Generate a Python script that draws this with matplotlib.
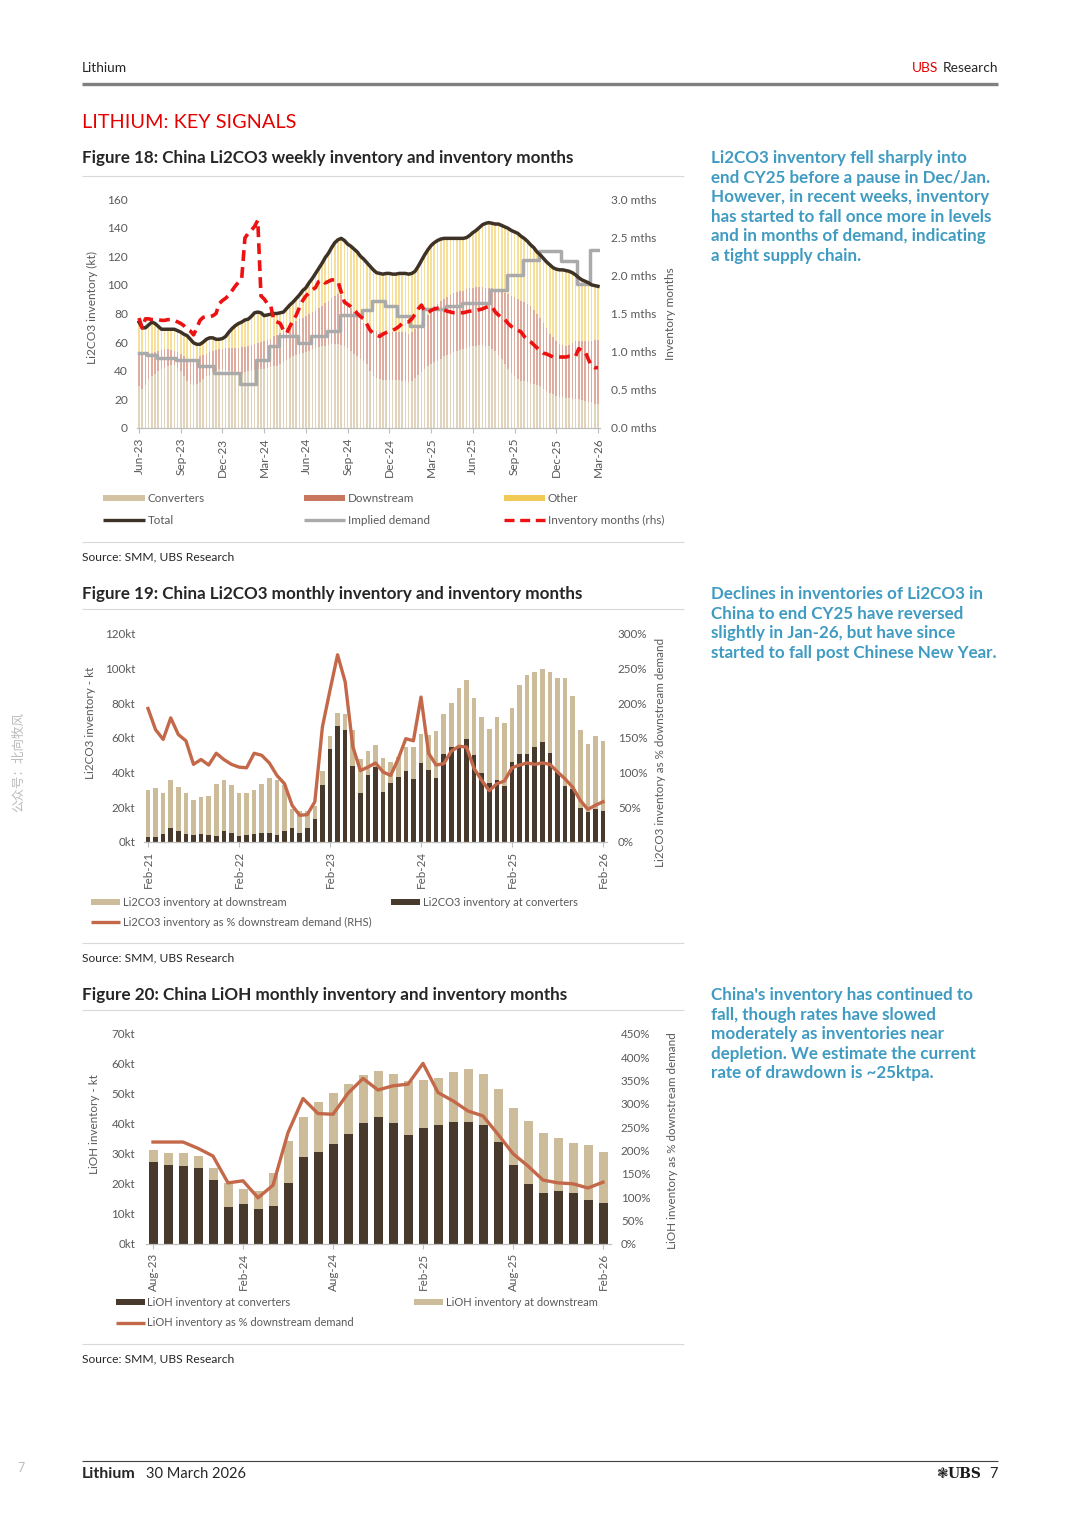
import matplotlib
matplotlib.use('Agg')
import matplotlib.pyplot as plt
import numpy as np
from matplotlib.patches import Rectangle

W, H = 1080, 1528
plt.rcParams['font.family'] = ['Lato', 'DejaVu Sans']

# ---------------- Figure 18 data (weekly, Jun-23 .. Mar-26) ----------------
f18_ticklabels = ['Jun-23', 'Sep-23', 'Dec-23', 'Mar-24', 'Jun-24', 'Sep-24',
                  'Dec-24', 'Mar-25', 'Jun-25', 'Sep-25', 'Dec-25', 'Mar-26']
converters = [29, 27, 30, 34, 36, 38, 40, 41, 42, 43,
              44, 44, 42, 40, 36, 33, 31, 30, 31, 32,
              34, 36, 37, 39, 40, 41, 41, 40.5, 40, 39,
              38, 37.5, 38, 39, 39.5, 40, 40.5, 41, 41.5, 41.5,
              42, 42.5, 43, 43, 44.5, 46, 47.5, 49, 50, 51,
              51.5, 52.5, 53, 54, 55, 56, 56.5, 57, 57.5, 58,
              58.5, 58.5, 58.5, 58, 57, 56, 54, 52, 50, 48,
              46.5, 45, 40, 36, 35, 34, 33.5, 33.5, 33.5, 33.5,
              33.5, 33.5, 33, 32.5, 32, 33, 35, 37, 39, 41,
              43, 44.5, 46, 47, 48.5, 50, 51, 52, 53, 54,
              54.5, 55, 56, 56.5, 57, 57.5, 58, 58, 57.5, 57,
              55.5, 54, 51, 48, 44.5, 41, 38.5, 36, 34.5, 33,
              32.5, 32, 31.5, 30.5, 30, 29, 27.5, 26, 24.5, 23.5,
              22.5, 21.5, 21.5, 21, 21, 20.5, 20.5, 20, 19.5, 19,
              18.5, 18, 17, 16.5]
downstream = [22, 24, 21.5, 18, 16.5, 15, 14, 13.5, 13, 12,
              10.5, 10, 11, 11.5, 14, 15.5, 17, 17.5, 17.5, 18,
              17, 16, 16, 15, 14.5, 14, 14.5, 15.5, 16, 17,
              18, 18.5, 18.5, 17.5, 17.5, 18, 18.5, 18.5, 18.5, 19.5,
              19.5, 20, 21, 22, 22, 22, 22.5, 22.5, 23, 24,
              24.5, 24.5, 25.5, 25.5, 26, 26, 27, 28, 29.5, 31,
              32.5, 34, 35, 35, 32.5, 30, 29.5, 29, 28.5, 28,
              27, 26, 29.5, 32, 32.5, 33, 33.5, 33.5, 33.5, 33.5,
              33.5, 33.5, 34, 34.5, 34, 34, 34, 34.5, 35, 35.5,
              36, 37.5, 39, 39.5, 40, 40, 40.5, 41, 41, 41,
              41, 41, 41, 41, 41, 41, 40.5, 40.5, 40.5, 41,
              42, 42.5, 45, 47, 49.5, 52.5, 54, 55.5, 55.5, 56,
              55.5, 54.5, 53.5, 52, 50, 48, 46, 44, 41.5, 40,
              38.5, 37.5, 36.5, 36, 37, 39, 40, 41, 41.5, 42,
              42.5, 43, 44.5, 45]
other = [23, 19, 18.5, 20, 21.5, 20, 17, 14.5, 14, 14,
         14.5, 15, 15, 15.5, 15.5, 16, 14, 12, 10, 8.5,
         9, 10, 10, 9, 7.5, 7, 7, 8, 11, 13.5,
         15.5, 17, 17.5, 19, 19, 20, 21.5, 21.5, 20.5, 17.5,
         17.5, 17, 16, 15, 14, 13, 13.5, 14.5, 15, 15.5,
         17, 19, 19.5, 22, 23.5, 26, 28, 30, 32, 33,
         35, 37, 38, 39.5, 41.5, 42.5, 43.5, 44, 44.5, 44,
         44.5, 44.5, 43.5, 42.5, 41, 41, 40.5, 41, 41, 40.5,
         40.5, 41, 41, 41, 41.5, 41, 40.5, 41.5, 43, 44.5,
         45.5, 45.5, 44.5, 44.5, 43.5, 42.5, 41, 39.5, 38.5, 37.5,
         37, 36.5, 36, 37, 38.5, 39.5, 41.5, 43.5, 45, 45.5,
         45.5, 46, 46.5, 46.5, 46.5, 46, 45.5, 45.5, 46, 45,
         44.5, 44, 43, 43.5, 43, 44, 45, 46, 48, 48.5,
         50, 51.5, 52.5, 53, 51.5, 49, 46.5, 44, 42.5, 41.5,
         40.5, 39, 38, 37.5]
implied_demand = [52.5, 52.5, 52.5, 51, 51, 51, 49, 49, 49, 49,
                  49, 49, 47.5, 47.5, 47.5, 47.5, 47.5, 47.5, 47.5, 43.5,
                  43.5, 43.5, 43.5, 43.5, 38.5, 38.5, 38.5, 38.5, 38.5, 38.5,
                  38.5, 38.5, 30.5, 30.5, 30.5, 30.5, 30.5, 47.5, 47.5, 47.5,
                  47.5, 57, 57, 57, 64, 64, 64, 64, 64, 64,
                  59.5, 59.5, 59.5, 59.5, 64, 64, 64, 64, 64, 67.5,
                  67.5, 67.5, 67.5, 79, 79, 79, 79, 79, 79, 79,
                  82.5, 82.5, 82.5, 89, 89, 89, 89, 85, 85, 85,
                  85, 78, 78, 78, 78, 71, 71, 71, 71, 83,
                  83, 83, 83, 83, 83, 83, 85.5, 85.5, 85.5, 85.5,
                  85.5, 87, 87, 87, 87, 87, 87, 87, 87, 87,
                  96.5, 96.5, 96.5, 96.5, 96.5, 107, 107, 107, 107, 107,
                  117.5, 117.5, 117.5, 117.5, 117.5, 123.5, 123.5, 123.5, 123.5, 123.5,
                  123.5, 123.5, 117, 117, 117, 117, 117, 100.5, 100.5, 100.5,
                  100.5, 124.5, 124.5, 124.5]
inventory_months = [1.44, 1.31, 1.43, 1.43, 1.42, 1.42, 1.42, 1.41, 1.41, 1.42,
                    1.42, 1.41, 1.39, 1.37, 1.34, 1.30, 1.27, 1.22, 1.31, 1.41,
                    1.45, 1.46, 1.46, 1.47, 1.50, 1.63, 1.67, 1.70, 1.74, 1.80,
                    1.86, 1.91, 1.96, 2.49, 2.55, 2.59, 2.64, 2.72, 1.73, 1.69,
                    1.63, 1.61, 1.41, 1.39, 1.37, 1.28, 1.24, 1.33, 1.41, 1.48,
                    1.58, 1.67, 1.73, 1.77, 1.81, 1.84, 1.92, 1.94, 1.90, 1.92,
                    1.94, 1.94, 1.92, 1.78, 1.65, 1.62, 1.59, 1.55, 1.50, 1.46,
                    1.43, 1.36, 1.28, 1.24, 1.22, 1.20, 1.23, 1.25, 1.27, 1.28,
                    1.30, 1.33, 1.37, 1.39, 1.39, 1.43, 1.49, 1.56, 1.61, 1.53,
                    1.51, 1.54, 1.56, 1.57, 1.57, 1.55, 1.53, 1.52, 1.51, 1.51,
                    1.51, 1.51, 1.52, 1.53, 1.53, 1.54, 1.55, 1.56, 1.58, 1.59,
                    1.59, 1.52, 1.48, 1.44, 1.42, 1.37, 1.33, 1.31, 1.28, 1.26,
                    1.20, 1.16, 1.13, 1.09, 1.05, 1.01, 0.98, 0.97, 0.95, 0.93,
                    0.93, 0.93, 0.93, 0.93, 0.94, 0.94, 0.94, 1.04, 1.01, 1.00,
                    0.90, 0.81, 0.79, 0.79]

# ---------------- Figure 19 data (monthly, Feb-21 .. Feb-26) ----------------
f19_ticklabels = ['Feb-21', 'Feb-22', 'Feb-23', 'Feb-24', 'Feb-25', 'Feb-26']
li2co3_converters = [2.9, 3.0, 4.4, 8.1, 6.4, 4.6, 4.2, 4.4, 4.2, 3.3,
                     6.2, 5.4, 3.5, 4.2, 4.6, 5.4, 5.0, 3.9, 6.6, 8.3,
                     5.2, 7.9, 13.1, 32.8, 53.4, 66.7, 64.4, 43.7, 28.3, 38.9,
                     43.0, 28.9, 34.3, 37.6, 40.8, 36.6, 45.7, 41.8, 37.0, 51.0,
                     54.9, 54.9, 59.3, 50.0, 40.0, 34.3, 36.0, 32.4, 45.9, 50.5,
                     50.5, 54.9, 57.8, 51.4, 40.5, 32.4, 30.4, 19.7, 17.1, 18.9,
                     17.9]
li2co3_downstream = [27.3, 28.2, 24.1, 27.5, 25.2, 23.9, 20.3, 21.4, 22.4, 30.4,
                     29.3, 27.4, 24.6, 24.3, 25.4, 28.3, 32.0, 31.7, 26.2, 10.6,
                     12.7, 10.0, 7.9, 8.2, 7.6, 7.7, 9.2, 20.8, 19.7, 13.5,
                     12.7, 19.8, 11.7, 11.4, 14.1, 18.3, 16.5, 19.7, 27.0, 23.0,
                     25.4, 33.7, 34.1, 33.0, 31.9, 30.8, 36.0, 36.2, 31.4, 39.9,
                     45.8, 43.0, 42.0, 46.5, 53.9, 62.0, 53.8, 45.2, 39.7, 42.4,
                     40.5]
li2co3_pct = [192.6, 162, 148, 179, 155, 146, 112, 119, 111, 128,
              119, 112, 108, 107, 128, 125, 114, 96, 84, 53,
              38.5, 39.5, 58, 166, 219, 270, 231, 138, 103, 108,
              114, 101, 96, 120, 149, 146, 209, 128, 111, 113,
              131, 138, 137, 106, 89, 74, 84, 88, 107, 111,
              114, 112, 114, 112, 101, 91, 79, 60, 47, 53,
              58]

# ---------------- Figure 20 data (monthly, Aug-23 .. Feb-26) ----------------
f20_ticklabels = ['Aug-23', 'Feb-24', 'Aug-24', 'Feb-25', 'Aug-25', 'Feb-26']
lioh_converters = [27.4, 26.3, 25.9, 25.3, 21.5, 12.5, 13.2, 11.6, 12.8, 20.4,
                   29.0, 30.8, 33.3, 36.8, 40.2, 42.4, 40.5, 36.2, 38.7, 39.7,
                   40.6, 40.8, 39.7, 33.9, 26.2, 20.0, 17.1, 17.7, 17.1, 14.6,
                   13.7]
lioh_downstream = [3.8, 3.9, 4.3, 4.1, 3.8, 7.7, 5.3, 6.2, 10.9, 13.9,
                   13.4, 16.4, 16.9, 16.5, 16.2, 15.2, 16.1, 18.2, 15.9, 15.7,
                   16.8, 17.5, 17.0, 17.9, 19.1, 21.1, 20.0, 17.5, 16.7, 18.3,
                   17.1]
lioh_pct = [218.5, 218.5, 218.5, 205, 188.5, 131, 135.4, 99, 126, 238.6,
            311.7, 279.5, 278, 323, 354.7, 330, 339, 342.5, 387, 324.6,
            306.7, 285, 274.4, 235, 193.5, 167, 137, 131, 129, 120,
            132.5]

# ---------------- colours ----------------
C_CONV = '#D3C3A2'
C_DOWN = '#C9765F'
C_OTHER = '#F0CA55'
C_TOTAL = '#3E3226'
C_DEM = '#AAAAAA'
C_RED = '#EE1111'
C_DARK = '#47392C'
C_TAN = '#CDBC99'
C_LINE = '#C4684A'
C_TICK = '#595959'
C_BLUE = '#3F9BC1'
C_UBSRED = '#E60000'

fig = plt.figure(figsize=(W / 100, H / 100), dpi=100)
fig.patch.set_facecolor('white')
ov = fig.add_axes([0, 0, 1, 1])
ov.set_xlim(0, W)
ov.set_ylim(H, 0)
ov.axis('off')
ov.patch.set_visible(False)
renderer = fig.canvas.get_renderer()


def ax_px(l, t, r, b):
    a = fig.add_axes([l / W, 1 - b / H, (r - l) / W, (b - t) / H])
    a.patch.set_visible(False)
    return a


def fit(t, width):
    bb = t.get_window_extent(renderer=renderer)
    t.set_fontsize(t.get_fontsize() * width / bb.width)
    return t.get_fontsize()


def txt(x, y, s, size=9, color='#262626', weight='normal', ha='left', va='center', width=None, **kw):
    t = ov.text(x, y, s, fontsize=size, color=color, fontweight=weight, ha=ha, va=va, **kw)
    if width:
        fit(t, width)
    return t


def hline(x0, x1, y, color='#D9D9D9', lw=0.8):
    ov.plot([x0, x1], [y, y], color=color, lw=lw, solid_capstyle='butt')


def style(ax, lsize=8.6, lpad=6.8, xpad=3.5):
    for s in ['top', 'left', 'right']:
        ax.spines[s].set_visible(False)
    ax.spines['bottom'].set_color('#BFBFBF')
    ax.spines['bottom'].set_linewidth(0.9)
    ax.tick_params(axis='y', length=0, labelsize=lsize, labelcolor=C_TICK, pad=lpad)
    ax.tick_params(axis='x', length=3.5, width=0.8, color='#BFBFBF', labelsize=lsize,
                   labelcolor=C_TICK, labelrotation=90, pad=xpad)


def style_r(axr, lsize=8.6, rpad=8):
    for s in axr.spines.values():
        s.set_visible(False)
    axr.tick_params(axis='y', length=0, labelsize=lsize, labelcolor=C_TICK, pad=rpad)


# ---------------- header ----------------
txt(82, 68, 'Lithium', size=10, width=45)
tr = txt(998, 68, 'Research', size=10, ha='right')
fit(tr, 998 - 943)
bb = tr.get_window_extent(renderer=renderer)
tu = txt(bb.x0 - 4, 68, 'UBS', size=tr.get_fontsize(), color=C_UBSRED, ha='right')
hline(82, 998, 84, color='#808080', lw=2.4)
txt(82, 123, 'LITHIUM: KEY SIGNALS', size=15, color=C_UBSRED, width=214)

# ---------------- section titles, source lines ----------------
txt(82, 158, 'Figure 18: China Li2CO3 weekly inventory and inventory months', size=11, weight='bold', width=491)
hline(82, 684, 176)
hline(82, 684, 542)
txt(82, 557, 'Source: SMM, UBS Research', size=8.5, width=151)

txt(82, 594, 'Figure 19: China Li2CO3 monthly inventory and inventory months', size=11, weight='bold', width=500)
hline(82, 684, 609)
hline(82, 684, 943)
txt(82, 958, 'Source: SMM, UBS Research', size=8.5, width=151)

txt(82, 995, 'Figure 20: China LiOH monthly inventory and inventory months', size=11, weight='bold', width=484)
hline(82, 684, 1010)
hline(82, 684, 1344)
txt(82, 1359, 'Source: SMM, UBS Research', size=8.5, width=151)

# ---------------- commentary ----------------
block1 = ['Li2CO3 inventory fell sharply into', 'end CY25 before a pause in Dec/Jan.',
          'However, in recent weeks, inventory', 'has started to fall once more in levels',
          'and in months of demand, indicating', 'a tight supply chain.']
block2 = ['Declines in inventories of Li2CO3 in', 'China to end CY25 have reversed',
          'slightly in Jan-26, but have since', 'started to fall post Chinese New Year.']
block3 = ["China's inventory has continued to", 'fall, though rates have slowed',
          'moderately as inventories near', 'depletion. We estimate the current',
          'rate of drawdown is ~25ktpa.']
probe = txt(711, -100, block1[3], size=11, weight='bold')
bsize = fit(probe, 280)
probe.remove()
for y0, blk in [(158, block1), (594, block2), (995, block3)]:
    for k, line in enumerate(blk):
        txt(711, y0 + k * 19.6, line, size=bsize, weight='bold', color=C_BLUE)

# ---------------- Figure 18 chart ----------------
n18 = len(converters)
x18 = np.arange(n18)
conv = np.array(converters)
down = np.array(downstream)
oth = np.array(other)
total = conv + down + oth
ax1 = ax_px(137.4, 199, 599.6, 428)
ax1.bar(x18, conv, width=0.5, color=C_CONV, lw=0, alpha=0.7)
ax1.bar(x18, down, width=0.5, bottom=conv, color=C_DOWN, lw=0, alpha=0.6)
ax1.bar(x18, oth, width=0.5, bottom=conv + down, color=C_OTHER, lw=0, alpha=0.6)
ax1.plot(x18, implied_demand, color=C_DEM, lw=2.5, drawstyle='steps-mid', zorder=3)
ax1.plot(x18, total, color=C_TOTAL, lw=2.5, zorder=4)
ax1.set_xlim(-0.5, n18 - 0.5)
ax1.set_ylim(0, 160)
ax1.set_yticks(np.arange(0, 161, 20))
ax1.set_xticks(np.arange(0, n18, 13))
ax1.set_xticklabels(f18_ticklabels)
style(ax1, lsize=8.6, lpad=6.8, xpad=3.5)
ax1r = ax1.twinx()
ax1r.patch.set_visible(False)
ax1r.plot(x18, inventory_months, color=C_RED, lw=2.6, dashes=(3, 1.7), zorder=5)
ax1r.set_ylim(0, 3)
ax1r.set_yticks(np.arange(0, 3.01, 0.5))
ax1r.set_yticklabels(['%.1f mths' % v for v in np.arange(0, 3.01, 0.5)])
style_r(ax1r, lsize=8.6, rpad=8.2)
txt(92, 308, 'Li2CO3 inventory (kt)', size=8.6, color=C_TICK, ha='center', rotation=90)
txt(671, 314, 'Inventory months', size=8.6, color=C_TICK, ha='center', rotation=90)


# legend helpers
def leg_patch(x0, x1, y, color, h=6):
    ov.add_patch(Rectangle((x0, y - h / 2), x1 - x0, h, facecolor=color, lw=0))


def leg_line(x0, x1, y, color, lw=2.4, dashes=None):
    if dashes:
        ov.plot([x0, x1], [y, y], color=color, lw=lw, dashes=dashes, solid_capstyle='butt')
    else:
        ov.plot([x0, x1], [y, y], color=color, lw=lw, solid_capstyle='butt')


leg_patch(103, 145, 498, C_CONV)
txt(148, 498, 'Converters', size=8.4, color=C_TICK)
leg_patch(304, 345, 498, C_DOWN)
txt(348, 498, 'Downstream', size=8.4, color=C_TICK)
leg_patch(504, 545, 498, C_OTHER)
txt(548, 498, 'Other', size=8.4, color=C_TICK)
leg_line(103, 145, 520, C_TOTAL)
txt(148, 520, 'Total', size=8.4, color=C_TICK)
leg_line(304, 345, 520, C_DEM)
txt(348, 520, 'Implied demand', size=8.4, color=C_TICK)
leg_line(504, 545, 520, C_RED, dashes=(3, 1.7))
txt(548, 520, 'Inventory months (rhs)', size=8.4, color=C_TICK)

# ---------------- Figure 19 chart ----------------
n19 = len(li2co3_converters)
x19 = np.arange(n19)
ax2 = ax_px(144.2, 634, 606.8, 842)
ax2.bar(x19, li2co3_converters, width=0.6, color=C_DARK, lw=0)
ax2.bar(x19, li2co3_downstream, width=0.6, bottom=li2co3_converters, color=C_TAN, lw=0)
ax2.set_xlim(-0.5, n19 - 0.5)
ax2.set_ylim(0, 120)
ax2.set_yticks(np.arange(0, 121, 20))
ax2.set_yticklabels(['%dkt' % v for v in range(0, 121, 20)])
ax2.set_xticks(np.arange(0, n19, 12))
ax2.set_xticklabels(f19_ticklabels)
style(ax2, lsize=8.4, lpad=6.5, xpad=3)
ax2r = ax2.twinx()
ax2r.patch.set_visible(False)
ax2r.plot(x19, li2co3_pct, color=C_LINE, lw=2.4, solid_joinstyle='round')
ax2r.set_ylim(0, 300)
ax2r.set_yticks(np.arange(0, 301, 50))
ax2r.set_yticklabels(['%d%%' % v for v in range(0, 301, 50)])
style_r(ax2r, lsize=8.4, rpad=8)
txt(91, 723, 'Li2CO3 inventory - kt', size=8.4, color=C_TICK, ha='center', rotation=90)
txt(661, 752, 'Li2CO3 inventory as % downstream demand', size=8.4, color=C_TICK, ha='center', rotation=90)

leg_patch(91, 120, 902, C_TAN)
txt(123, 902, 'Li2CO3 inventory at downstream', size=8, color=C_TICK)
leg_patch(391, 420, 902, C_DARK)
txt(423, 902, 'Li2CO3 inventory at converters', size=8, color=C_TICK)
leg_line(91, 120, 922, C_LINE)
txt(123, 922, 'Li2CO3 inventory as % downstream demand (RHS)', size=8, color=C_TICK)

# ---------------- Figure 20 chart ----------------
n20 = len(lioh_converters)
x20 = np.arange(n20)
ax3 = ax_px(145.5, 1034, 610.5, 1244)
ax3.bar(x20, lioh_converters, width=0.6, color=C_DARK, lw=0)
ax3.bar(x20, lioh_downstream, width=0.6, bottom=lioh_converters, color=C_TAN, lw=0)
ax3.set_xlim(-0.5, n20 - 0.5)
ax3.set_ylim(0, 70)
ax3.set_yticks(np.arange(0, 71, 10))
ax3.set_yticklabels(['%dkt' % v for v in range(0, 71, 10)])
ax3.set_xticks(np.arange(0, n20, 6))
ax3.set_xticklabels(f20_ticklabels)
style(ax3, lsize=8.4, lpad=7.5, xpad=3)
ax3r = ax3.twinx()
ax3r.patch.set_visible(False)
ax3r.plot(x20, lioh_pct, color=C_LINE, lw=2.4, solid_joinstyle='round')
ax3r.set_ylim(0, 450)
ax3r.set_yticks(np.arange(0, 451, 50))
ax3r.set_yticklabels(['%d%%' % v for v in range(0, 451, 50)])
style_r(ax3r, lsize=8.4, rpad=7.5)
txt(94, 1124, 'LiOH inventory - kt', size=8.4, color=C_TICK, ha='center', rotation=90)
txt(673, 1141, 'LiOH inventory as % downstream demand', size=8.4, color=C_TICK, ha='center', rotation=90)

leg_patch(116, 145, 1302, C_DARK)
txt(147, 1302, 'LiOH inventory at converters', size=8, color=C_TICK)
leg_patch(414, 443, 1302, C_TAN)
txt(446, 1302, 'LiOH inventory at downstream', size=8, color=C_TICK)
leg_line(116, 145, 1323, C_LINE)
txt(147, 1323, 'LiOH inventory as % downstream demand', size=8, color=C_TICK)

# ---------------- watermark, page marks, footer ----------------
ov.text(19, 762, '公众号：北向牧风', fontsize=9, color='#BBBBBB', rotation=90,
        ha='center', va='center', family=['Noto Sans CJK SC', 'DejaVu Sans'])
txt(21, 1468, '7', size=9, color='#BBBBBB', ha='center')
hline(82, 998, 1461, color='#404040', lw=0.8)
tl = txt(82, 1474, 'Lithium', size=10.5, weight='bold', width=54)
txt(146, 1474, '30 March 2026', size=tl.get_fontsize(), width=100)
txt(998, 1474, '7', size=10.5, ha='right')
ov.text(981, 1474, 'UBS', fontsize=10, fontweight='bold', color='#1a1a1a', ha='right', va='center',
        family=['DejaVu Serif'])
ov.text(943, 1474, '\u2743', fontsize=10, color='#1a1a1a', ha='center', va='center',
        family=['DejaVu Sans'])

fig.savefig('out.png', dpi=100, facecolor='white')
